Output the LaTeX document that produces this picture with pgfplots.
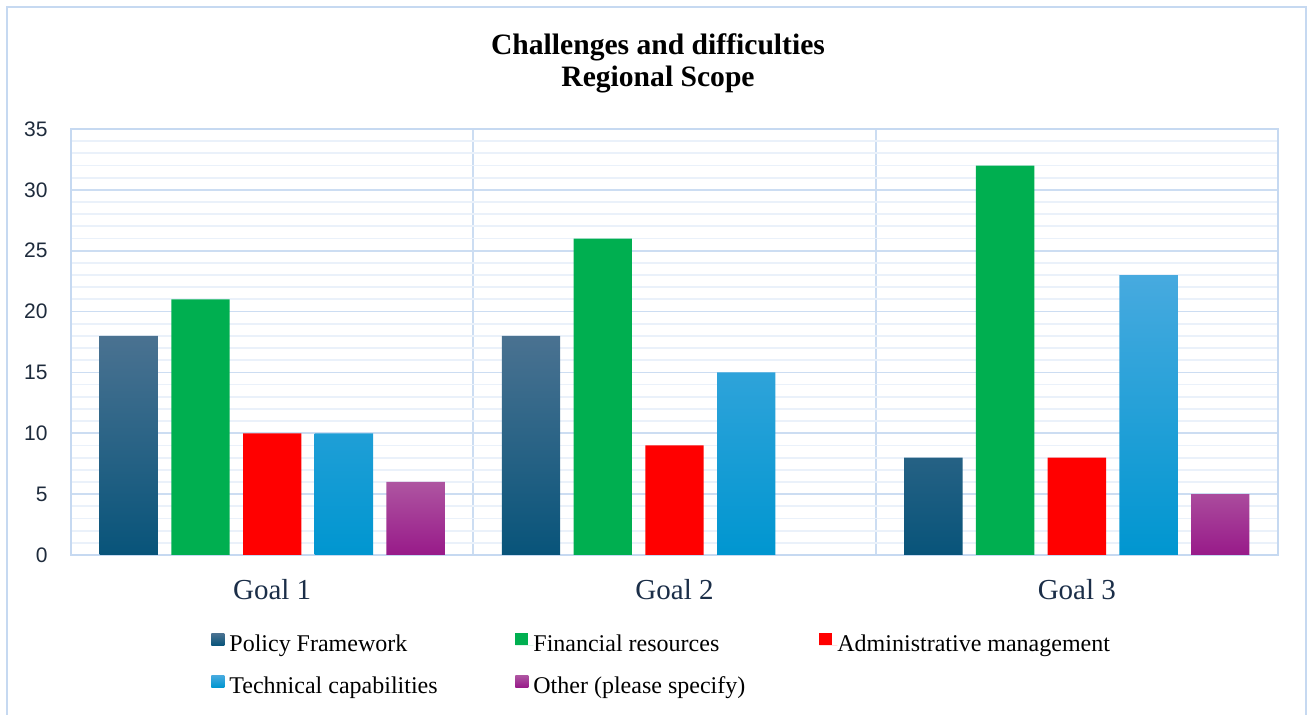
\documentclass[border=0pt]{standalone}
\usepackage{fontspec}
\setmainfont{Liberation Serif}
\newfontfamily\sansf{Liberation Sans}
\usepackage{pgfplots}
\pgfplotsset{compat=1.18}
\definecolor{frameblue}{HTML}{C6D9F1}
\definecolor{gridmajor}{HTML}{CCDDF2}
\definecolor{gridminor}{HTML}{EAF1FA}
\definecolor{pfTop}{HTML}{4A7291}
\definecolor{pfBot}{HTML}{08547A}
\definecolor{finG}{HTML}{00AF50}
\definecolor{admR}{HTML}{FF0000}
\definecolor{tcTop}{HTML}{47AADF}
\definecolor{tcBot}{HTML}{0096D0}
\definecolor{otTop}{HTML}{AE55A1}
\definecolor{otBot}{HTML}{981A89}
\definecolor{ticktext}{HTML}{1E2B3C}
\definecolor{goaltext}{HTML}{1B2E48}
\begin{document}
\begin{tikzpicture}
\path[use as bounding box] (0,0) rectangle (654.5pt,357.5pt);
\draw[frameblue, line width=1pt] (3.5pt,0) -- (3.5pt,354pt) -- (653pt,354pt) -- (653pt,0);
\begin{axis}[
  at={(35.5pt,80pt)}, anchor=south west,
  scale only axis, width=603.5pt, height=213pt,
  xmin=-0.5, xmax=2.5, ymin=0, ymax=35,
  xtick={0,1,2}, xticklabels={Goal 1,Goal 2,Goal 3},
  minor xtick={0.5,1.5},
  ytick={0,5,...,35}, minor ytick={1,2,3,4,6,7,8,9,11,12,13,14,16,17,18,19,21,22,23,24,26,27,28,29,31,32,33,34},
  ymajorgrids, yminorgrids, xminorgrids,
  major grid style={gridmajor, line width=0.9pt},
  minor y grid style={gridminor, line width=0.9pt},
  minor x grid style={gridmajor, line width=0.9pt},
  axis line style={frameblue, line width=1pt},
  major tick length=0pt, minor tick length=0pt,
  tick style={draw=none},
  /pgf/number format/assume math mode=true,
  yticklabel style={font=\sansf\fontsize{10.5}{12}\selectfont, text=ticktext, inner sep=0pt, anchor=east, xshift=-11.5pt},
  xticklabel style={font=\fontsize{14.5}{16}\selectfont, text=goaltext, inner sep=0pt, anchor=center, yshift=-17.5pt},
  bar width=0.145,
  legend columns=3,
  legend cell align=left,
  legend style={draw=none, fill=none, at={(0.116,-0.183)}, anchor=north west,
    font=\fontsize{12}{14}\selectfont, inner sep=0pt,
    /tikz/every even column/.append style={column sep=0pt},
    /tikz/row sep=9pt,
    nodes={inner sep=0pt, text height=9pt, text depth=3pt}},
  legend image code/.code={\path[#1, draw=none] (0pt,0pt) rectangle (6.5pt,6pt); \path (0pt,0pt) -- (9pt,0pt);},
]
\addplot[ybar, bar shift=-0.3566, draw=none, top color=pfTop, bottom color=pfBot] coordinates {(0,18) (1,18) (2,8)};
\addlegendentry{\makebox[143pt][l]{Policy Framework}}
\addplot[ybar, bar shift=-0.1783, draw=none, fill=finG] coordinates {(0,21) (1,26) (2,32)};
\addlegendentry{\makebox[143pt][l]{Financial resources}}
\addplot[ybar, bar shift=0, draw=none, fill=admR] coordinates {(0,10) (1,9) (2,8)};
\addlegendentry{Administrative management}
\addplot[ybar, bar shift=0.1783, draw=none, top color=tcTop, bottom color=tcBot] coordinates {(0,10) (1,15) (2,23)};
\addlegendentry{\makebox[143pt][l]{Technical capabilities}}
\addplot[ybar, bar shift=0.3566, draw=none, top color=otTop, bottom color=otBot] coordinates {(0,6) (2,5)};
\addlegendentry{\makebox[143pt][l]{Other (please specify)}}
\end{axis}
\node[anchor=base, font=\bfseries\fontsize{14.8}{16}\selectfont] at (329pt,330pt) {Challenges and difficulties};
\node[anchor=base, font=\bfseries\fontsize{14.8}{16}\selectfont] at (329pt,314pt) {Regional Scope};
\end{tikzpicture}
\end{document}
